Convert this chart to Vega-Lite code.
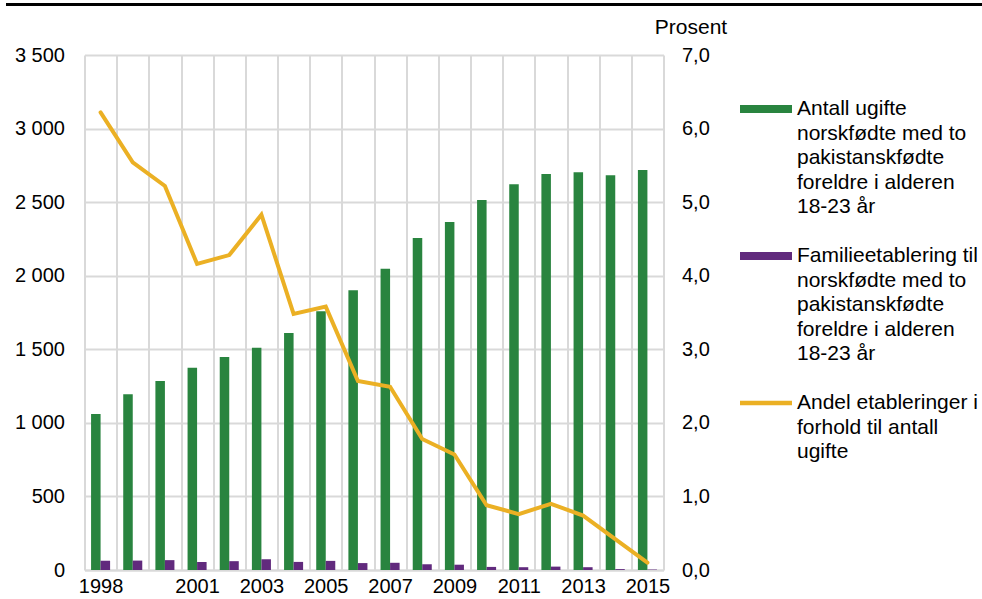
{
  "$schema": "https://vega.github.io/schema/vega-lite/v6.json",
  "padding": {"left": 6, "top": 3, "right": 0, "bottom": 0},
  "background": "white",
  "config": {
    "font": "Liberation Sans",
    "view": {"stroke": null},
    "concat": {"spacing": 10}
  },
  "datasets": {
    "rows": [
      {"year": 1998, "serie": "Antall ugifte", "value": 1060},
      {"year": 1999, "serie": "Antall ugifte", "value": 1194},
      {"year": 2000, "serie": "Antall ugifte", "value": 1284},
      {"year": 2001, "serie": "Antall ugifte", "value": 1375},
      {"year": 2002, "serie": "Antall ugifte", "value": 1447},
      {"year": 2003, "serie": "Antall ugifte", "value": 1511},
      {"year": 2004, "serie": "Antall ugifte", "value": 1611},
      {"year": 2005, "serie": "Antall ugifte", "value": 1758},
      {"year": 2006, "serie": "Antall ugifte", "value": 1902},
      {"year": 2007, "serie": "Antall ugifte", "value": 2048},
      {"year": 2008, "serie": "Antall ugifte", "value": 2256},
      {"year": 2009, "serie": "Antall ugifte", "value": 2365},
      {"year": 2010, "serie": "Antall ugifte", "value": 2515},
      {"year": 2011, "serie": "Antall ugifte", "value": 2621},
      {"year": 2012, "serie": "Antall ugifte", "value": 2691},
      {"year": 2013, "serie": "Antall ugifte", "value": 2703},
      {"year": 2014, "serie": "Antall ugifte", "value": 2682},
      {"year": 2015, "serie": "Antall ugifte", "value": 2718},
      {"year": 1998, "serie": "Familieetablering", "value": 63},
      {"year": 1999, "serie": "Familieetablering", "value": 64},
      {"year": 2000, "serie": "Familieetablering", "value": 67},
      {"year": 2001, "serie": "Familieetablering", "value": 55},
      {"year": 2002, "serie": "Familieetablering", "value": 60},
      {"year": 2003, "serie": "Familieetablering", "value": 73},
      {"year": 2004, "serie": "Familieetablering", "value": 55},
      {"year": 2005, "serie": "Familieetablering", "value": 62},
      {"year": 2006, "serie": "Familieetablering", "value": 47},
      {"year": 2007, "serie": "Familieetablering", "value": 49},
      {"year": 2008, "serie": "Familieetablering", "value": 39},
      {"year": 2009, "serie": "Familieetablering", "value": 36},
      {"year": 2010, "serie": "Familieetablering", "value": 21},
      {"year": 2011, "serie": "Familieetablering", "value": 19},
      {"year": 2012, "serie": "Familieetablering", "value": 23},
      {"year": 2013, "serie": "Familieetablering", "value": 19},
      {"year": 2014, "serie": "Familieetablering", "value": 6},
      {"year": 2015, "serie": "Familieetablering", "value": 3},
      {"year": 1998, "serie": "Andel etableringer", "value": 6.22},
      {"year": 1999, "serie": "Andel etableringer", "value": 5.54},
      {"year": 2000, "serie": "Andel etableringer", "value": 5.22},
      {"year": 2001, "serie": "Andel etableringer", "value": 4.16},
      {"year": 2002, "serie": "Andel etableringer", "value": 4.28},
      {"year": 2003, "serie": "Andel etableringer", "value": 4.83},
      {"year": 2004, "serie": "Andel etableringer", "value": 3.48},
      {"year": 2005, "serie": "Andel etableringer", "value": 3.58},
      {"year": 2006, "serie": "Andel etableringer", "value": 2.57},
      {"year": 2007, "serie": "Andel etableringer", "value": 2.49},
      {"year": 2008, "serie": "Andel etableringer", "value": 1.78},
      {"year": 2009, "serie": "Andel etableringer", "value": 1.57},
      {"year": 2010, "serie": "Andel etableringer", "value": 0.88},
      {"year": 2011, "serie": "Andel etableringer", "value": 0.76},
      {"year": 2012, "serie": "Andel etableringer", "value": 0.90},
      {"year": 2013, "serie": "Andel etableringer", "value": 0.74},
      {"year": 2014, "serie": "Andel etableringer", "value": 0.42},
      {"year": 2015, "serie": "Andel etableringer", "value": 0.10}
    ]
  },
  "center": true,
  "vconcat": [
    {
      "width": 976,
      "height": 3,
      "data": {"values": []},
      "mark": "point",
      "view": {"fill": "black", "stroke": null}
    },
    {
      "width": 579,
      "height": 515,
      "data": {"name": "rows"},
      "layer": [
        {
          "transform": [{"filter": "datum.serie != 'Andel etableringer'"}],
          "mark": {"type": "bar"},
          "encoding": {
            "x": {
              "field": "year",
              "type": "ordinal",
              "scale": {"paddingInner": 0, "paddingOuter": 0},
              "axis": {
                "title": null,
                "tickBand": "extent",
                "grid": true,
                "gridColor": "#d9d9d9",
                "gridWidth": 2,
                "ticks": false,
                "domain": true,
                "domainColor": "#d9d9d9",
                "domainWidth": 2,
                "labelAngle": 0,
                "labelFontSize": 20,
                "labelColor": "black",
                "labelPadding": 6,
                "labelExpr": "datum.value == 1998 || (datum.value >= 2001 && datum.value % 2 == 1) ? datum.label : ''"
              }
            },
            "xOffset": {
              "field": "serie",
              "scale": {"domain": ["Antall ugifte", "Familieetablering"], "paddingOuter": 0.69, "paddingInner": 0}
            },
            "y": {
              "field": "value",
              "type": "quantitative",
              "scale": {"domain": [0, 3500]},
              "axis": {
                "title": null,
                "values": [0, 500, 1000, 1500, 2000, 2500, 3000, 3500],
                "grid": true,
                "gridColor": "#d9d9d9",
                "gridWidth": 2,
                "domain": false,
                "ticks": false,
                "labelFontSize": 20,
                "labelPadding": 20,
                "labelColor": "black",
                "labelExpr": "replace(format(datum.value, ','), ',', ' ')"
              }
            },
            "color": {
              "field": "serie",
              "type": "nominal",
              "scale": {
                "domain": ["Antall ugifte", "Familieetablering", "Andel etableringer"],
                "range": ["#29843f", "#612a7d", "#ebb024"]
              },
              "legend": {
                "title": null,
                "orient": "none",
                "legendX": 734,
                "legendY": 80,
                "symbolType": "M-1,-0.15H1V0.15H-1Z",
                "symbolSize": 2704,
                "symbolStrokeWidth": 0,
                "labelFontSize": 21,
                "labelOffset": 5,
                "rowPadding": 13,
                "labelLimit": 400,
                "labelColor": "black",
                "labelExpr": "datum.value == 'Antall ugifte' ? ['Antall ugifte', 'norskfødte med to', 'pakistanskfødte', 'foreldre i alderen', '18-23 år'] : datum.value == 'Familieetablering' ? ['Familieetablering til', 'norskfødte med to', 'pakistanskfødte', 'foreldre i alderen', '18-23 år'] : ['Andel etableringer i', 'forhold til antall', 'ugifte']",
                "encode": {
                  "labels": {"update": {"lineHeight": {"value": 24.5}}},
                  "symbols": {
                    "update": {
                      "fill": {"scale": "color", "field": "value"},
                      "stroke": {"value": "transparent"},
                      "shape": {"signal": "datum.value == 'Andel etableringer' ? 'M-1,-0.09H1V0.09H-1Z' : 'M-1,-0.15H1V0.15H-1Z'"}
                    }
                  }
                }
              }
            }
          }
        },
        {
          "transform": [{"filter": "datum.serie == 'Andel etableringer'"}],
          "mark": {"type": "line", "strokeWidth": 4, "strokeCap": "round"},
          "encoding": {
            "x": {"field": "year", "type": "ordinal"},
            "y": {
              "field": "value",
              "type": "quantitative",
              "scale": {"domain": [0, 7]},
              "axis": {
                "orient": "right",
                "title": "Prosent",
                "titleAngle": 0,
                "titleX": 27,
                "titleY": -22,
                "titleAlign": "center",
                "titleBaseline": "alphabetic",
                "titleFontSize": 21,
                "titleFontWeight": "normal",
                "titleColor": "black",
                "values": [0, 1, 2, 3, 4, 5, 6, 7],
                "grid": false,
                "domain": false,
                "ticks": false,
                "minExtent": 240,
                "labelPadding": 18,
                "labelFontSize": 20,
                "labelColor": "black",
                "labelExpr": "replace(format(datum.value, '.1f'), '.', ',')"
              }
            },
            "color": {"field": "serie", "type": "nominal"}
          }
        }
      ],
      "resolve": {"scale": {"y": "independent"}}
    }
  ]
}
